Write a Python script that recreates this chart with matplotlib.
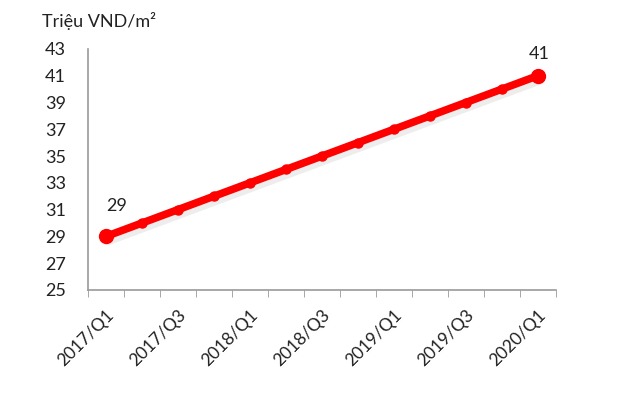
import numpy as np
import matplotlib.pyplot as plt
import matplotlib.patheffects as pe

quarters = ['2017/Q1', '2017/Q2', '2017/Q3', '2017/Q4',
            '2018/Q1', '2018/Q2', '2018/Q3', '2018/Q4',
            '2019/Q1', '2019/Q2', '2019/Q3', '2019/Q4', '2020/Q1']
price = [29, 30, 31, 32, 33, 34, 35, 36, 37, 38, 39, 40, 41]
yticks = [25, 27, 29, 31, 33, 35, 37, 39, 41, 43]

plt.rcParams['font.family'] = ['Lato', 'DejaVu Sans']

fig = plt.figure(figsize=(6.21, 3.98), dpi=100)
ax = fig.add_axes([0.1417, 0.2714, 0.7533, 0.6056])

x = np.arange(len(quarters))
# soft shadow under the line
ax.plot(x, price, color='#888888', lw=7, alpha=0.15, solid_capstyle='round',
        path_effects=[pe.Stroke(offset=(1, -3))], zorder=2)
ax.plot(x, price, color='#ff0000', lw=5.5, marker='o', ms=6.5, solid_capstyle='round', zorder=3)
ax.plot([x[0], x[-1]], [price[0], price[-1]], 'o', color='#ff0000', ms=10, zorder=4)

ax.annotate(str(price[0]), (x[0], price[0]), xytext=(0, 18), textcoords='offset points',
            fontsize=13, color='#222222', ha='left')
ax.annotate(str(price[-1]), (x[-1], price[-1]), xytext=(1, 12), textcoords='offset points',
            fontsize=13, color='#222222', ha='center')

ax.set_xlim(-0.5, len(quarters) - 0.5)
ax.set_ylim(25, 43)
ax.set_yticks(yticks)
ax.tick_params(axis='y', length=0, pad=16, labelsize=13, labelcolor='#222222')

ax.set_xticks(x[::2])
ax.set_xticklabels(quarters[::2], rotation=45, ha='right', rotation_mode='anchor',
                   fontsize=12.5, color='#222222')
ax.set_xticks(np.arange(-0.5, len(quarters)), minor=True)
ax.tick_params(axis='x', which='major', length=0, pad=12)
ax.tick_params(axis='x', which='minor', length=5, color='#999999')

for s in ['top', 'right']:
    ax.spines[s].set_visible(False)
for s in ['left', 'bottom']:
    ax.spines[s].set_color('#999999')
    ax.spines[s].set_linewidth(1.2)

fig.text(0.068, 0.947, 'Triệu VND/m²', fontsize=13, color='#222222', va='center')

fig.savefig('out.png', dpi=100)
